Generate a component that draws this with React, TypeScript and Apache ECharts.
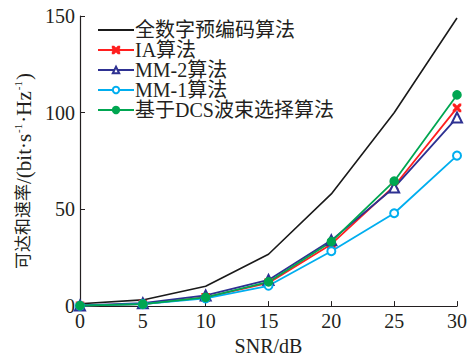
import React, { useEffect, useRef } from "react";
import * as echarts from "echarts";

const snr = [0, 5, 10, 15, 20, 25, 30];
const fullDigital = [1.2, 3.2, 10.3, 26.8, 58, 100, 149];
const iaAlg = [0.2, 1, 4.5, 12, 32, 62, 102.5];
const mm2Alg = [0.3, 1.5, 5.5, 13.5, 34, 61.3, 97.5];
const mm1Alg = [0.2, 1, 4, 10.5, 28.4, 48, 77.8];
const dcsAlg = [0.2, 1, 4.5, 12.5, 33.3, 64.6, 109.2];
const seriesNames = ["全数字预编码算法", "IA算法", "MM-2算法", "MM-1算法", "基于DCS波束选择算法"];
const yTicks = [0, 50, 100, 150];

const FONT = "'Liberation Serif', 'Noto Sans CJK SC', serif";
const TXT = "#231f20";
const crossPath = "path://M0,0 L1.5,0 L5,3.5 L8.5,0 L10,0 L10,1.5 L6.5,5 L10,8.5 L10,10 L8.5,10 L5,6.5 L1.5,10 L0,10 L0,8.5 L3.5,5 L0,1.5 Z";

export default function App() {
  const ref = useRef<HTMLDivElement>(null);
  useEffect(() => {
    const chart = echarts.init(ref.current!, undefined, { renderer: "svg" });
    const mk = (name: string, data: number[], color: string, symbol: string, size: number, width = 1.8) => ({
      name,
      type: "line",
      data: snr.map((x, i) => [x, data[i]]),
      symbol,
      symbolSize: size,
      showSymbol: size > 0,
      lineStyle: { color, width },
      itemStyle: { color, borderColor: color, borderWidth: 1.6 },
    });
    chart.setOption({
      animation: false,
      backgroundColor: "#fff",
      textStyle: { fontFamily: FONT },
      grid: { left: 80, right: 12, top: 16, bottom: 48 },
      legend: {
        orient: "vertical",
        left: 97,
        top: 20,
        padding: 0,
        itemWidth: 36,
        itemHeight: 8,
        itemGap: 0,
        data: [
          { name: seriesNames[0], itemStyle: { color: "transparent", borderColor: "transparent", borderWidth: 0 } },
          seriesNames[1],
          seriesNames[2],
          seriesNames[3],
          seriesNames[4],
        ],
        textStyle: { fontFamily: FONT, fontSize: 20, lineHeight: 19.5, color: TXT, padding: [0, 0, 0, -4] },
      },
      xAxis: {
        type: "value",
        min: 0,
        max: 30,
        interval: 5,
        name: "SNR/dB",
        nameLocation: "middle",
        nameGap: 29,
        nameTextStyle: { fontFamily: FONT, fontSize: 20, color: TXT },
        axisLine: { lineStyle: { color: TXT, width: 1.2 } },
        axisTick: { inside: true, length: 5, lineStyle: { color: TXT } },
        axisLabel: { fontFamily: FONT, fontSize: 20, color: TXT, margin: 5 },
        splitLine: { show: false },
      },
      yAxis: {
        type: "value",
        min: 0,
        max: 150,
        interval: 50,
        name: "{c|可达和速率}{l|/(bit·s}{s|-1}{l|·Hz}{s|-1}{l|)}",
        nameLocation: "middle",
        nameGap: 38,
        nameTextStyle: {
          fontFamily: FONT, fontSize: 20, color: TXT, padding: [0, 20, 0, 0],
          rich: {
            c: { fontFamily: FONT, fontSize: 17, lineHeight: 22, color: TXT },
            l: { fontFamily: FONT, fontSize: 21, lineHeight: 22, color: TXT },
            s: { fontFamily: FONT, fontSize: 11, lineHeight: 22, verticalAlign: "top", color: TXT, padding: [0, 1, 0, 1] },
          },
        },
        axisLine: { show: true, lineStyle: { color: TXT, width: 1.2 } },
        axisTick: { show: true, inside: true, length: 5, lineStyle: { color: TXT } },
        axisLabel: {
          fontFamily: FONT, fontSize: 20, color: TXT, margin: 5,
          formatter: (v: number) => (yTicks.includes(v) ? String(v) : ""),
        },
        splitLine: { show: false },
      },
      series: [
        mk(seriesNames[0], fullDigital, "#1a1a1a", "circle", 0, 1.6),
        mk(seriesNames[1], iaAlg, "#ff1f1f", crossPath, 7),
        mk(seriesNames[2], mm2Alg, "#2e3192", "emptyTriangle", 10),
        mk(seriesNames[3], mm1Alg, "#00aeef", "emptyCircle", 8),
        mk(seriesNames[4], dcsAlg, "#00a651", "circle", 8),
      ],
    });
    return () => chart.dispose();
  }, []);
  return <div ref={ref} style={{ position: "absolute", left: 0, top: 0, width: 470, height: 361 }} />;
}
